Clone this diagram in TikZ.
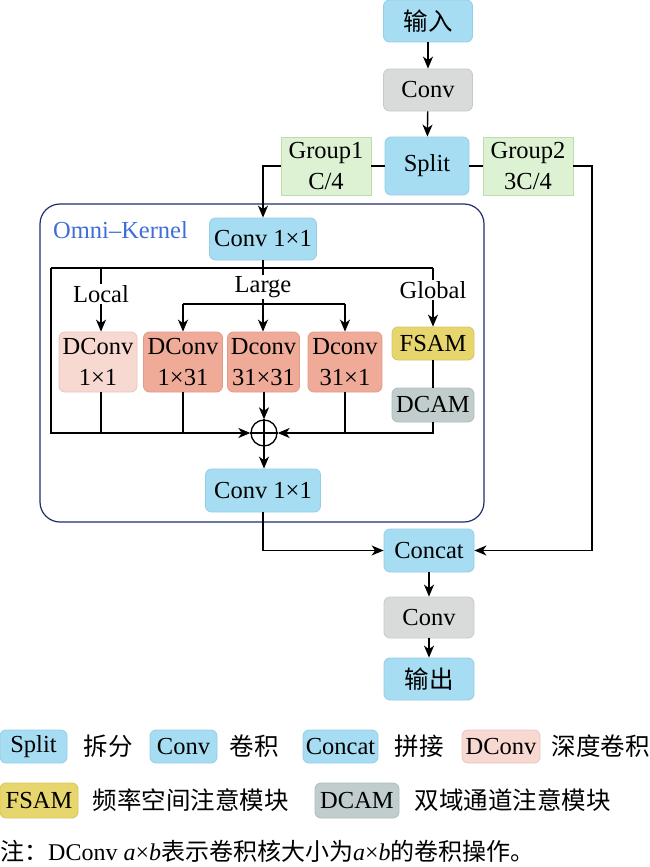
\documentclass[tikz,border=0pt]{standalone}
\usepackage{fontspec}
\setmainfont{Liberation Serif}
\newfontfamily\cjk{Noto Sans CJK SC}
\usetikzlibrary{arrows.meta,calc}
\definecolor{cblue}{HTML}{A7DDF3}
\definecolor{cblueB}{HTML}{96CDE5}
\definecolor{cgray}{HTML}{D9DBDB}
\definecolor{cgrayB}{HTML}{C6CACA}
\definecolor{cgreen}{HTML}{DDF1D3}
\definecolor{cgreenB}{HTML}{BFDCB0}
\definecolor{cpinkL}{HTML}{F8D9D1}
\definecolor{cpinkLB}{HTML}{E6C6BE}
\definecolor{csalmon}{HTML}{EFAB97}
\definecolor{csalmonB}{HTML}{E09B87}
\definecolor{cyel}{HTML}{E7D66E}
\definecolor{cyelB}{HTML}{D6C55F}
\definecolor{cdcam}{HTML}{C1CDCD}
\definecolor{cdcamB}{HTML}{AFBCBC}
\definecolor{cnavy}{HTML}{1E2C6E}
\definecolor{comni}{HTML}{3F6FD6}
\begin{document}
\begin{tikzpicture}[x=1pt,y=-1pt,
  font=\fontsize{24.5}{31}\selectfont,
  base/.style={rounded corners=6pt, line width=0.8pt, inner sep=0pt, align=center},
  bluebox/.style={base, fill=cblue, draw=cblueB},
  graybox/.style={base, fill=cgray, draw=cgrayB},
  greenbox/.style={base, rounded corners=0pt, fill=cgreen, draw=cgreenB},
  pinkbox/.style={base, fill=cpinkL, draw=cpinkLB},
  salmonbox/.style={base, fill=csalmon, draw=csalmonB},
  yelbox/.style={base, fill=cyel, draw=cyelB},
  dcambox/.style={base, fill=cdcam, draw=cdcamB},
  lbl/.style={inner sep=1pt},
  conn/.style={line width=1.4pt, black},
  arr/.style={conn, -{Stealth[length=12pt,width=10pt,inset=3.5pt]}}
]
\useasboundingbox (0,0) rectangle (650,867);

% container
\draw[cnavy, line width=1.2pt, rounded corners=20pt] (40,204) rectangle (484,522);
\node[anchor=west, text=comni, inner sep=0pt] (omnilbl) at (53,230) {Omni–Kernel};

% top chain
\node[bluebox, minimum width=89, minimum height=42] (in) at (428,21) {{\cjk 输入}};
\node[graybox, minimum width=89, minimum height=42] (conv1) at (428,90) {Conv};
\node[bluebox, minimum width=84, minimum height=58] (split) at (427,166) {Split};
\node[greenbox, minimum width=90, minimum height=58] (g1) at (326,166) {Group1\\C/4};
\node[greenbox, minimum width=90, minimum height=58] (g2) at (528,166) {Group2\\3C/4};

\node[bluebox, minimum width=107, minimum height=42] (c11a) at (263,239) {Conv 1×1};

% branch labels
\node[lbl] (local) at (101,294) {Local};
\node[lbl] (large) at (263,287) {Large};
\node[lbl] (glob) at (433,290) {Global};

% conv boxes
\node[pinkbox, minimum width=78, minimum height=60] (dc1) at (98,362) {DConv\\1×1};
\node[salmonbox, minimum width=79, minimum height=60] (dc2) at (183,362) {DConv\\1×31};
\node[salmonbox, minimum width=72, minimum height=60] (dc3) at (263.5,362) {Dconv\\31×31};
\node[salmonbox, minimum width=74, minimum height=60] (dc4) at (345,362) {Dconv\\31×1};
\node[yelbox, minimum width=82, minimum height=33] (fsam) at (433,343.5) {FSAM};
\node[dcambox, minimum width=82, minimum height=34] (dcam) at (433,405) {DCAM};

\node[circle, draw, line width=1.3pt, minimum size=26, inner sep=0pt] (sum) at (264,433) {};
\draw[line width=1.3pt] (sum.north) -- (sum.south) (sum.west) -- (sum.east);

\node[bluebox, minimum width=115, minimum height=43] (c11b) at (263,490.5) {Conv 1×1};

\node[bluebox, minimum width=90, minimum height=43] (concat) at (429,550.5) {Concat};
\node[graybox, minimum width=90, minimum height=41] (conv2) at (429,617.5) {Conv};
\node[bluebox, minimum width=90, minimum height=42] (out) at (429,679) {{\cjk 输出}};

% coordinates
\coordinate (bL) at (51,268);
\coordinate (bC) at (263,268);
\coordinate (bLoc) at (101,268);
\coordinate (bR) at (433,268);
\coordinate (sL) at (51,433);
\coordinate (sR) at (433,433);
\coordinate (lg) at (263,304);
\coordinate (lgL) at (183,304);
\coordinate (lgR) at (345,304);
\coordinate (rr) at (592,166);

% top connectors
\draw[arr] (in) -- (conv1);
\draw[arr] (conv1) -- (split);
\draw[conn] (split) -- (g1);
\draw[conn] (split) -- (g2);
\draw[arr] (g1.west) -| (c11a.north);
\draw[arr] (g2.east) -- (rr) |- (concat.east);

% omni-kernel internals
\draw[conn] (c11a.south) -- (bC);
\draw[conn] (bL) -- (bR);
\draw[conn] (bLoc) -- (local.north);
\draw[arr] (local.south) -- (dc1.north -| bLoc);
\draw[conn] (bC) -- (large.north);
\draw[conn] (large.south) -- (lg);
\draw[arr] (lgL) -- (dc2.north);
\draw[conn] (lgL) -- (lgR);
\draw[arr] (lg) -- (dc3.north -| lg);
\draw[arr] (lgR) -- (dc4.north);
\draw[conn] (bR) -- (glob.north);
\draw[arr] (glob.south) -- (fsam.north);
\draw[conn] (fsam) -- (dcam);

\draw[arr] (bL) -- (sL) -- (sum.west);
\draw[arr] (dcam.south) -- (sR) -- (sum.east);
\draw[conn] (dc1.south -| bLoc) -- (sL -| bLoc);
\draw[conn] (dc2.south) -- (sL -| dc2.south);
\draw[conn] (dc4.south) -- (sL -| dc4.south);
\draw[arr] (dc3.south -| sum) -- (sum.north);
\draw[arr] (sum.south) -- (c11b.north -| sum);

% bottom
\draw[arr] (c11b.south) |- (concat.west);
\draw[arr] (concat) -- (conv2);
\draw[arr] (conv2) -- (out);

% legend
\node[bluebox, minimum width=67, minimum height=33] (lsplit) at (33.5,746.5) {Split};
\node[lbl] (tsplit) at (108,746.5) {\cjk 拆分};
\node[bluebox, minimum width=67, minimum height=33] (lconv) at (183.5,746.5) {Conv};
\node[lbl] (tconv) at (254,746.5) {\cjk 卷积};
\node[bluebox, minimum width=75, minimum height=33] (lconcat) at (340.5,746.5) {Concat};
\node[lbl] (tconcat) at (419,746.5) {\cjk 拼接};
\node[pinkbox, minimum width=78, minimum height=33] (ldconv) at (501,746.5) {DConv};
\node[lbl] (tdconv) at (600.5,746.5) {\cjk 深度卷积};

\node[yelbox, minimum width=78, minimum height=35] (lfsam) at (39,800.5) {FSAM};
\node[lbl] (tfsam) at (190.5,800.5) {\cjk 频率空间注意模块};
\node[dcambox, minimum width=84, minimum height=35] (ldcam) at (357,800.5) {DCAM};
\node[lbl] (tdcam) at (512.5,800.5) {\cjk 双域通道注意模块};

\node[anchor=west, inner sep=0pt, font=\fontsize{24}{28}\selectfont] (note) at (0,851) {{\cjk 注：}DConv \textit{a}×\textit{b}{\cjk 表示卷积核大小为}\textit{a}×\textit{b}{\cjk 的卷积操作。}};
\end{tikzpicture}
\end{document}
